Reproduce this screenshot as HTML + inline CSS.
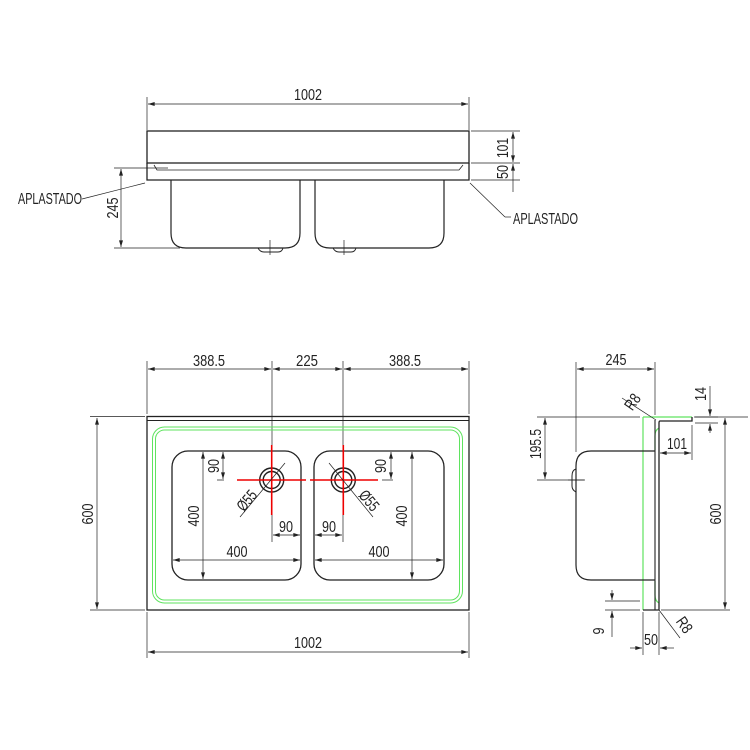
<!DOCTYPE html>
<html><head><meta charset="utf-8"><style>
html,body{margin:0;padding:0;background:#fff}
svg{display:block}
text{font-family:"Liberation Sans",sans-serif;font-size:16px;fill:#222}
</style></head><body>
<svg width="750" height="750" viewBox="0 0 750 750" xmlns="http://www.w3.org/2000/svg">
<defs>
<marker id="a" viewBox="0 0 10 6" refX="10" refY="3" markerWidth="7" markerHeight="4" orient="auto-start-reverse" markerUnits="userSpaceOnUse"><path d="M0,0 L10,3 L0,6z" fill="#222"/></marker>
</defs>
<g fill="none" stroke="#222" stroke-width="1">
<line x1="147" y1="97" x2="147" y2="130" stroke-width="0.7"/>
<line x1="469" y1="97" x2="469" y2="130" stroke-width="0.7"/>
<line x1="148" y1="104" x2="468" y2="104" stroke-width="0.7" marker-start="url(#a)" marker-end="url(#a)"/>
<rect x="147" y="131" width="322" height="32" stroke-width="1.3"/>
<path d="M147,163 V180 H469 V163" stroke-width="1.3"/>
<path d="M154,165 L157,170 H459 L463,165" stroke-width="0.8"/>
<path d="M171,180 V233 Q171,248 186,248 H285 Q300,248 300,233 V180" stroke-width="1.2"/>
<path d="M315,180 V233 Q315,248 330,248 H429 Q444,248 444,233 V180" stroke-width="1.2"/>
<path d="M258,248 Q260,252 264,252 H278 Q282,252 283,248" stroke-width="0.9"/>
<path d="M333,248 Q335,252 339,252 H351 Q355,252 356,248" stroke-width="0.9"/>
<line x1="270" y1="240" x2="270" y2="255" stroke-width="0.7"/>
<line x1="344" y1="240" x2="344" y2="255" stroke-width="0.7"/>
<line x1="471" y1="131" x2="520" y2="131" stroke-width="0.7"/>
<line x1="471" y1="163" x2="520" y2="163" stroke-width="0.7"/>
<line x1="471" y1="180" x2="520" y2="180" stroke-width="0.7"/>
<line x1="513" y1="132" x2="513" y2="162" stroke-width="0.7" marker-start="url(#a)" marker-end="url(#a)"/>
<line x1="513" y1="164" x2="513" y2="179" stroke-width="0.7" marker-start="url(#a)"/>
<line x1="513" y1="179" x2="513" y2="192" stroke-width="0.7"/>
<line x1="114" y1="168" x2="168" y2="168" stroke-width="0.7"/>
<line x1="114" y1="248" x2="180" y2="248" stroke-width="0.7"/>
<line x1="121" y1="169" x2="121" y2="247" stroke-width="0.7" marker-start="url(#a)" marker-end="url(#a)"/>
<line x1="82" y1="199" x2="145" y2="183" stroke-width="0.7"/>
<line x1="470" y1="183" x2="505" y2="217" stroke-width="0.7"/>
<line x1="505" y1="217" x2="511" y2="217" stroke-width="0.7"/>

<line x1="147" y1="361" x2="147" y2="414" stroke-width="0.7"/>
<line x1="469" y1="361" x2="469" y2="414" stroke-width="0.7"/>
<line x1="272" y1="361" x2="272" y2="445" stroke-width="0.7"/>
<line x1="343" y1="361" x2="343" y2="445" stroke-width="0.7"/>
<line x1="272" y1="515" x2="272" y2="542" stroke-width="0.7"/>
<line x1="343" y1="515" x2="343" y2="542" stroke-width="0.7"/>
<line x1="148" y1="369" x2="271" y2="369" stroke-width="0.7" marker-start="url(#a)" marker-end="url(#a)"/>
<line x1="273" y1="369" x2="342" y2="369" stroke-width="0.7" marker-start="url(#a)" marker-end="url(#a)"/>
<line x1="344" y1="369" x2="468" y2="369" stroke-width="0.7" marker-start="url(#a)" marker-end="url(#a)"/>
<rect x="147" y="416.5" width="322" height="193.5" stroke-width="1.3"/>
<line x1="147" y1="420.5" x2="469" y2="420.5" stroke-width="1"/>
<rect x="152.5" y="427" width="310" height="176" rx="12" stroke="#5fe35f" stroke-width="1"/>
<rect x="155.5" y="430" width="304" height="170" rx="9" stroke="#5fe35f" stroke-width="1"/>
<rect x="172" y="451" width="129" height="129" rx="16" stroke-width="1.3"/>
<rect x="314" y="451" width="130" height="129" rx="16" stroke-width="1.3"/>
<circle cx="271.7" cy="480" r="12" stroke-width="1.4"/>
<circle cx="271.7" cy="480" r="8.5" stroke-width="1.4"/>
<circle cx="343.3" cy="480" r="12" stroke-width="1.4"/>
<circle cx="343.3" cy="480" r="8.5" stroke-width="1.4"/>
<g stroke="#e00" stroke-width="1.6">
<line x1="237" y1="480" x2="306" y2="480"/><line x1="271.7" y1="445" x2="271.7" y2="515"/>
<line x1="310" y1="480" x2="378" y2="480"/><line x1="343.3" y1="445" x2="343.3" y2="515"/>
</g>
<g stroke="#888" stroke-width="1.4"><line x1="217" y1="480" x2="224" y2="480"/><line x1="382" y1="480" x2="393" y2="480"/></g>
<line x1="223" y1="452" x2="223" y2="479" stroke-width="0.7" marker-start="url(#a)" marker-end="url(#a)"/>
<line x1="391" y1="452" x2="391" y2="479" stroke-width="0.7" marker-start="url(#a)" marker-end="url(#a)"/>
<line x1="203" y1="452" x2="203" y2="579" stroke-width="0.7" marker-start="url(#a)" marker-end="url(#a)"/>
<line x1="412" y1="452" x2="412" y2="579" stroke-width="0.7" marker-start="url(#a)" marker-end="url(#a)"/>
<line x1="173" y1="560" x2="300" y2="560" stroke-width="0.7" marker-start="url(#a)" marker-end="url(#a)"/>
<line x1="315" y1="560" x2="443" y2="560" stroke-width="0.7" marker-start="url(#a)" marker-end="url(#a)"/>
<line x1="273" y1="535" x2="300" y2="535" stroke-width="0.7" marker-start="url(#a)" marker-end="url(#a)"/>
<line x1="315" y1="535" x2="342" y2="535" stroke-width="0.7" marker-start="url(#a)" marker-end="url(#a)"/>
<line x1="285" y1="463" x2="240" y2="517" stroke-width="0.7"/>
<line x1="329" y1="463" x2="373" y2="517" stroke-width="0.7"/>
<line x1="90" y1="416.5" x2="145" y2="416.5" stroke-width="0.7"/>
<line x1="90" y1="610" x2="145" y2="610" stroke-width="0.7"/>
<line x1="97" y1="418" x2="97" y2="609" stroke-width="0.7" marker-start="url(#a)" marker-end="url(#a)"/>
<line x1="147" y1="612" x2="147" y2="658" stroke-width="0.7"/>
<line x1="469" y1="612" x2="469" y2="658" stroke-width="0.7"/>
<line x1="148" y1="652" x2="468" y2="652" stroke-width="0.7" marker-start="url(#a)" marker-end="url(#a)"/>

<line x1="576" y1="362" x2="576" y2="452" stroke-width="0.7"/>
<line x1="655" y1="362" x2="655" y2="415" stroke-width="0.7"/>
<line x1="577" y1="369" x2="654" y2="369" stroke-width="0.7" marker-start="url(#a)" marker-end="url(#a)"/>
<line x1="537" y1="417" x2="640" y2="417" stroke-width="0.7"/>
<line x1="537" y1="480" x2="585" y2="480" stroke-width="0.7"/>
<line x1="545" y1="418" x2="545" y2="479" stroke-width="0.7" marker-start="url(#a)" marker-end="url(#a)"/>
<path d="M643,417 H692" stroke="#5fe35f" stroke-width="1.2"/>
<path d="M643,417 V610" stroke="#5fe35f" stroke-width="1.2"/>
<path d="M659,428 Q655,430 655,436 V450 M655,581 V595 Q655,601 659,603" stroke="#5fe35f" stroke-width="1.2"/>
<path d="M692,417 V421 H660 Q659,421 659,423 V610 H643" stroke-width="1.3"/>
<path d="M655,420 V610" stroke-width="1.1"/>
<path d="M655,451 H591 Q576,451 576,466 V565 Q576,580 591,580 H655" stroke-width="1.2"/>
<path d="M576,469 Q572,470 572,476 V486 Q572,490 576,492" stroke-width="1"/>
<line x1="568" y1="480" x2="584" y2="480" stroke-width="0.7"/>
<line x1="622" y1="398" x2="656" y2="420" stroke-width="0.7"/>
<line x1="695" y1="417" x2="718" y2="417" stroke-width="0.7"/>
<line x1="695" y1="423" x2="718" y2="423" stroke-width="0.7"/>
<line x1="710" y1="386" x2="710" y2="416" stroke-width="0.7" marker-end="url(#a)"/>
<line x1="710" y1="433" x2="710" y2="424" stroke-width="0.7" marker-end="url(#a)"/>
<line x1="692" y1="425" x2="692" y2="460" stroke-width="0.7"/>
<line x1="660" y1="453" x2="691" y2="453" stroke-width="0.7" marker-start="url(#a)" marker-end="url(#a)"/>
<line x1="694" y1="417" x2="748" y2="417" stroke-width="0.7"/>
<line x1="661" y1="610" x2="730" y2="610" stroke-width="0.7"/>
<line x1="725" y1="418" x2="725" y2="609" stroke-width="0.7" marker-start="url(#a)" marker-end="url(#a)"/>
<line x1="605" y1="601" x2="640" y2="601" stroke-width="0.7"/>
<line x1="605" y1="610" x2="640" y2="610" stroke-width="0.7"/>
<line x1="612" y1="590" x2="612" y2="600" stroke-width="0.7" marker-end="url(#a)"/>
<line x1="612" y1="637" x2="612" y2="611" stroke-width="0.7" marker-end="url(#a)"/>
<line x1="643" y1="612" x2="643" y2="655" stroke-width="0.7"/>
<line x1="659" y1="612" x2="659" y2="655" stroke-width="0.7"/>
<line x1="630" y1="648" x2="642" y2="648" stroke-width="0.7" marker-end="url(#a)"/>
<line x1="674" y1="648" x2="660" y2="648" stroke-width="0.7" marker-end="url(#a)"/>
<line x1="659" y1="610" x2="680" y2="638" stroke-width="0.7"/>
</g>

<g>
<text x="308" y="100" text-anchor="middle" textLength="28" lengthAdjust="spacingAndGlyphs">1002</text>
<text transform="translate(508,148) rotate(-90)" text-anchor="middle" textLength="20" lengthAdjust="spacingAndGlyphs">101</text>
<text transform="translate(508,172) rotate(-90)" text-anchor="middle" textLength="14" lengthAdjust="spacingAndGlyphs">50</text>
<text transform="translate(118,208) rotate(-90)" text-anchor="middle" textLength="21" lengthAdjust="spacingAndGlyphs">245</text>
<text x="18" y="204" textLength="64" lengthAdjust="spacingAndGlyphs">APLASTADO</text>
<text x="513" y="224" textLength="65" lengthAdjust="spacingAndGlyphs">APLASTADO</text>
<text x="209" y="366" text-anchor="middle" textLength="32" lengthAdjust="spacingAndGlyphs">388.5</text>
<text x="307" y="366" text-anchor="middle" textLength="22" lengthAdjust="spacingAndGlyphs">225</text>
<text x="405" y="366" text-anchor="middle" textLength="32" lengthAdjust="spacingAndGlyphs">388.5</text>
<text transform="translate(93,514) rotate(-90)" text-anchor="middle" textLength="21" lengthAdjust="spacingAndGlyphs">600</text>
<text x="308" y="648" text-anchor="middle" textLength="28" lengthAdjust="spacingAndGlyphs">1002</text>
<text transform="translate(219,466) rotate(-90)" text-anchor="middle" textLength="14" lengthAdjust="spacingAndGlyphs">90</text>
<text transform="translate(386,466) rotate(-90)" text-anchor="middle" textLength="14" lengthAdjust="spacingAndGlyphs">90</text>
<text transform="translate(199,516) rotate(-90)" text-anchor="middle" textLength="21" lengthAdjust="spacingAndGlyphs">400</text>
<text transform="translate(407,516) rotate(-90)" text-anchor="middle" textLength="21" lengthAdjust="spacingAndGlyphs">400</text>
<text x="237" y="557" text-anchor="middle" textLength="21" lengthAdjust="spacingAndGlyphs">400</text>
<text x="379" y="557" text-anchor="middle" textLength="21" lengthAdjust="spacingAndGlyphs">400</text>
<text x="286" y="532" text-anchor="middle" textLength="14" lengthAdjust="spacingAndGlyphs">90</text>
<text x="329" y="532" text-anchor="middle" textLength="14" lengthAdjust="spacingAndGlyphs">90</text>
<text transform="translate(251,504) rotate(-50)" text-anchor="middle" textLength="22" lengthAdjust="spacingAndGlyphs">Ø55</text>
<text transform="translate(365,504) rotate(50)" text-anchor="middle" textLength="22" lengthAdjust="spacingAndGlyphs">Ø55</text>
<text x="616" y="365" text-anchor="middle" textLength="21" lengthAdjust="spacingAndGlyphs">245</text>
<text transform="translate(637,405) rotate(-55)" text-anchor="middle" textLength="16" lengthAdjust="spacingAndGlyphs">R8</text>
<text transform="translate(706,394) rotate(-90)" text-anchor="middle" textLength="14" lengthAdjust="spacingAndGlyphs">14</text>
<text x="677" y="449" text-anchor="middle" textLength="20" lengthAdjust="spacingAndGlyphs">101</text>
<text transform="translate(541,444) rotate(-90)" text-anchor="middle" textLength="30" lengthAdjust="spacingAndGlyphs">195.5</text>
<text transform="translate(721,514) rotate(-90)" text-anchor="middle" textLength="21" lengthAdjust="spacingAndGlyphs">600</text>
<text transform="translate(604,631) rotate(-90)" text-anchor="middle" textLength="7" lengthAdjust="spacingAndGlyphs">9</text>
<text x="651" y="645" text-anchor="middle" textLength="14" lengthAdjust="spacingAndGlyphs">50</text>
<text transform="translate(680,628) rotate(55)" text-anchor="middle" textLength="16" lengthAdjust="spacingAndGlyphs">R8</text>
</g>
</svg>
</body></html>
